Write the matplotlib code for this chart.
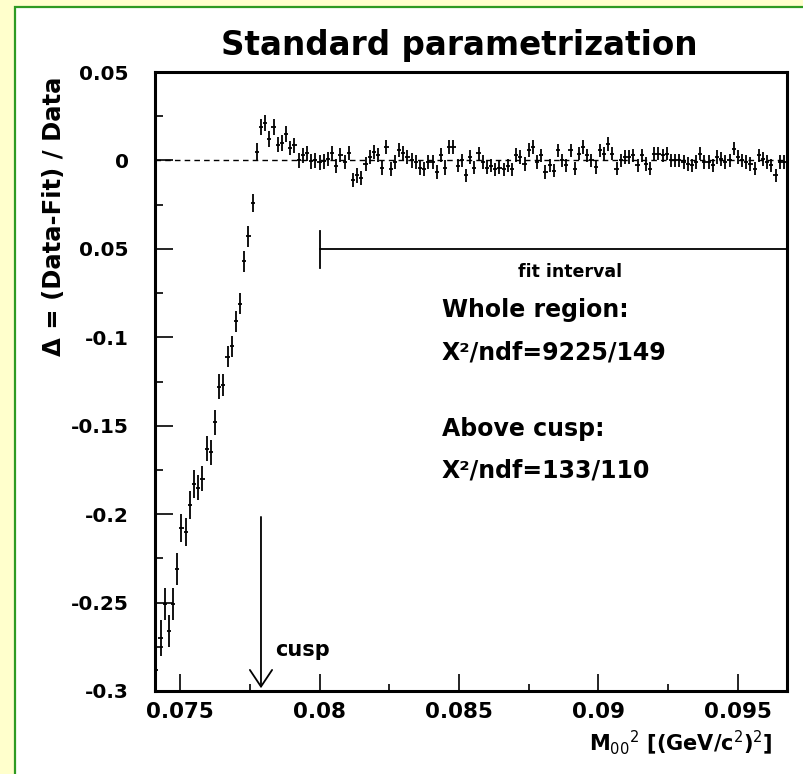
import numpy as np
import matplotlib.pyplot as plt
from matplotlib.patches import Rectangle

# bins of M00^2, width 0.00015 GeV^2
bin_width = 0.00015
first_bin = 0.07415

resid = [-0.288, -0.270, -0.251, -0.266, -0.251, -0.231, -0.208, -0.210, -0.195, -0.183,
         -0.185, -0.180, -0.163, -0.165, -0.148, -0.128, -0.127, -0.111, -0.105, -0.091,
         -0.081, -0.057, -0.043, -0.024, 0.005, 0.019, 0.021, 0.012, 0.019, 0.009,
         0.010, 0.015, 0.007, 0.0085, 0.000, 0.003, 0.004, -0.0004, 0.000, -0.001,
         -0.0006, 0.001, 0.004, -0.003, 0.003, -0.001, 0.004, -0.011, -0.0085, -0.010,
         -0.002, 0.002, 0.005, 0.003, -0.004, 0.0075, -0.005, -0.001, 0.006, 0.004,
         0.002, 0.000, -0.001, -0.004, -0.005, -0.001, -0.001, -0.0066, 0.003, -0.004,
         0.0075, 0.0075, -0.003, 0.000, -0.0085, 0.002, -0.004, 0.004, -0.001, -0.004,
         -0.003, -0.005, -0.004, -0.005, -0.003, -0.005, 0.003, 0.002, -0.002, 0.006,
         0.0075, -0.001, 0.0028, -0.0066, -0.0028, -0.0057, 0.0057, 0.000, -0.0028, 0.0057,
         -0.0047, 0.0038, 0.0075, 0.0028, 0.000, -0.0038, 0.0057, 0.0038, 0.0094, 0.0038,
         -0.0047, 0.000, 0.0019, 0.0019, 0.0028, -0.0028, 0.0028, -0.0019, -0.0047, 0.0038,
         0.0038, 0.0028, 0.0038, 0.000, 0.000, 0.000, -0.0009, -0.0019, -0.0028, -0.0009,
         0.0038, -0.0009, -0.0009, -0.0028, 0.0019, 0.0009, -0.0009, 0.000, 0.0066, 0.0019,
         0.000, -0.0009, -0.0019, -0.0047, 0.0028, 0.0009, -0.0009, -0.0028, -0.0085, -0.0009,
         -0.0009, 0.000]

err = [0.012, 0.010, 0.009, 0.009, 0.009, 0.009, 0.008, 0.008, 0.008, 0.008,
       0.007, 0.007, 0.007, 0.007, 0.007, 0.007, 0.006, 0.006, 0.006, 0.006,
       0.006, 0.006, 0.006, 0.005, 0.005, 0.0045, 0.0045, 0.0045, 0.0045, 0.0045,
       0.0045, 0.0045, 0.0042, 0.0042, 0.0042, 0.0042, 0.0042, 0.0042, 0.0042, 0.0042,
       0.004, 0.004, 0.004, 0.004, 0.004, 0.004, 0.004, 0.004, 0.004, 0.004,
       0.004, 0.004, 0.004, 0.004, 0.004, 0.004, 0.004, 0.004, 0.004, 0.004,
       0.004, 0.004, 0.004, 0.004, 0.004, 0.004, 0.004, 0.004, 0.004, 0.004,
       0.0038, 0.0038, 0.0038, 0.0038, 0.0038, 0.0038, 0.0038, 0.0038, 0.0038, 0.0038,
       0.0038, 0.0038, 0.0038, 0.0038, 0.0038, 0.0038, 0.0038, 0.0038, 0.0038, 0.0038,
       0.0038, 0.0038, 0.0038, 0.0038, 0.0038, 0.0038, 0.0038, 0.0038, 0.0038, 0.0038,
       0.0038, 0.0038, 0.0038, 0.0038, 0.0038, 0.0038, 0.0038, 0.0038, 0.0038, 0.0038,
       0.0038, 0.0038, 0.0038, 0.0038, 0.0038, 0.0038, 0.0038, 0.0038, 0.0038, 0.0038,
       0.0038, 0.0038, 0.0038, 0.0038, 0.0038, 0.0038, 0.0038, 0.0038, 0.0038, 0.0038,
       0.0038, 0.0038, 0.0038, 0.0038, 0.0038, 0.0038, 0.0038, 0.0038, 0.0038, 0.0038,
       0.0038, 0.0038, 0.0038, 0.0038, 0.0038, 0.0038, 0.0038, 0.0038, 0.0038, 0.0038,
       0.0038, 0.0038]

x_ticks = [0.075, 0.08, 0.085, 0.09, 0.095]
x_ticklabels = ["0.075", "0.08", "0.085", "0.09", "0.095"]
y_ticks = [0.05, 0.0, -0.05, -0.1, -0.15, -0.2, -0.25, -0.3]
y_ticklabels = ["0.05", "0", "0.05", "-0.1", "-0.15", "-0.2", "-0.25", "-0.3"]

cusp = 0.0779
fit_start = 0.08

x = first_bin + bin_width * np.arange(len(resid))

fig = plt.figure(figsize=(8.04, 7.74), dpi=100)
fig.patch.set_facecolor("#ffffcc")
panel = Rectangle((15 / 804, -0.1), 1.2, 1.1 - 7 / 774, transform=fig.transFigure,
                  facecolor="white", edgecolor="#2e9a22", lw=1.6, zorder=-10)
fig.patches.append(panel)

ax = fig.add_axes([155 / 804, 1 - 691 / 774, 632 / 804, 619 / 774])
ax.set_zorder(5)
ax.set_xlim(0.0741, 0.09676)
ax.set_ylim(-0.3, 0.05)

ax.axhline(0, color="black", lw=1.0, ls=(0, (4, 3)), zorder=1)
ax.errorbar(x, resid, yerr=err, xerr=bin_width / 2, fmt="none", ecolor="black",
            elinewidth=1.3, capsize=0, zorder=3)

# cusp arrow
ax.annotate("", xy=(cusp, -0.3), xytext=(cusp, -0.2),
            arrowprops=dict(arrowstyle="->,head_length=1.2,head_width=0.8", color="black", lw=1.3))
ax.text(0.0794, -0.277, "cusp", fontsize=15, fontweight="bold", ha="center", va="center")

# fit interval
ax.plot([fit_start, fit_start], [-0.04, -0.061], color="black", lw=1.3)
ax.plot([fit_start, 0.09676], [-0.05, -0.05], color="black", lw=1.3)
ax.text(0.08897, -0.0633, "fit interval", fontsize=12.5, fontweight="bold", ha="center", va="center")

ax.text(0.08439, -0.0848, "Whole region:", fontsize=17, fontweight="bold", ha="left", va="center")
ax.text(0.08439, -0.1086, "X²/ndf=9225/149", fontsize=17, fontweight="bold", ha="left", va="center")
ax.text(0.08439, -0.1516, "Above cusp:", fontsize=17, fontweight="bold", ha="left", va="center")
ax.text(0.08439, -0.1753, "X²/ndf=133/110", fontsize=17, fontweight="bold", ha="left", va="center")

ax.set_xticks(x_ticks)
ax.set_xticklabels(x_ticklabels)
ax.set_xticks([0.0775, 0.0825, 0.0875, 0.0925], minor=True)
ax.set_yticks(y_ticks)
ax.set_yticklabels(y_ticklabels)
ax.set_yticks([0.025, -0.025, -0.075, -0.125, -0.175, -0.225, -0.275], minor=True)
ax.tick_params(axis="both", which="major", direction="in", width=1.2)
ax.tick_params(axis="y", which="major", length=13, pad=19, labelsize=14.5)
ax.tick_params(axis="y", which="minor", direction="in", length=6, width=1.2)
ax.tick_params(axis="x", which="major", length=12, pad=8, labelsize=15.5)
ax.tick_params(axis="x", which="minor", direction="in", length=5, width=1.2)
for lab in ax.get_xticklabels() + ax.get_yticklabels():
    lab.set_fontweight("bold")
for s in ax.spines.values():
    s.set_linewidth(2.2)

fig.text(459 / 804, 1 - 45 / 774, "Standard parametrization", fontsize=23.5, fontweight="bold",
         ha="center", va="center")
fig.text(54 / 804, 1 - 216 / 774, "Δ = (Data-Fit) / Data", fontsize=17.5, fontweight="bold",
         rotation=90, ha="center", va="center")
fig.text(773 / 804, 1 - 743 / 774, "M$_{00}$$^2$ [(GeV/c$^2$)$^2$]", fontsize=15, fontweight="bold",
         ha="right", va="center")

fig.savefig("out.png", dpi=100, facecolor=fig.get_facecolor())
